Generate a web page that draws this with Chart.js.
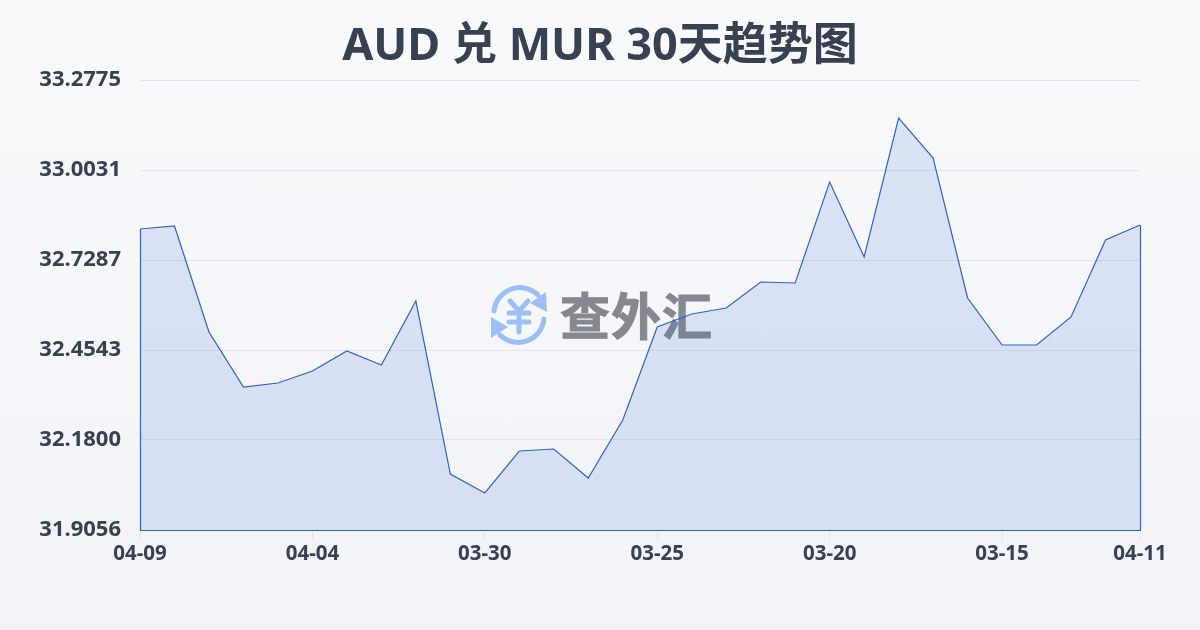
<!DOCTYPE html>
<html lang="zh"><head><meta charset="utf-8">
<script src="https://cdn.jsdelivr.net/npm/chart.js@4"></script>
<style>
html,body{margin:0;padding:0;width:1200px;height:630px;overflow:hidden}
body{background:linear-gradient(180deg,#f8fafc 0%,#f1f3f6 100%);position:relative}
#wm{position:absolute;left:488px;top:284px;width:230px;height:62px;display:flex;align-items:center}
#wm span{font:700 50px "Noto Sans CJK SC";color:#85898f;-webkit-text-stroke:1px #85898f;margin-left:10px;line-height:58px;letter-spacing:1px;position:relative;top:-2px}
canvas{position:absolute;left:0;top:0}
</style></head><body>
<div id="wm"><svg width="62" height="62" viewBox="0 0 62 62" fill="none" stroke="#9cbff5" stroke-width="5" stroke-linecap="round">
<path d="M6 27 A26 26 0 0 1 50 11"/><path d="M56 35 A26 26 0 0 1 12 51"/>
<path d="M58 8 L59 28 L42 19 Z" fill="#9cbff5" stroke="none"/><path d="M3 54 L3 33 L20 43 Z" fill="#9cbff5" stroke="none"/>
<path d="M22 17 L31 27 L40 17 M21 29 H41 M21 38 H41 M31 27 V48"/></svg><span>查外汇</span></div>
<canvas id="c" width="1200" height="630"></canvas>
<script>
const labels=["04-09","04-08","04-07","04-06","04-05","04-04","04-03","04-02","04-01","03-31","03-30","03-29","03-28","03-27","03-26","03-25","03-24","03-23","03-22","03-21","03-20","03-19","03-18","03-17","03-16","03-15","03-14","03-13","03-12","04-11"];
const rates=[32.8232,32.8324,32.5092,32.3415,32.3537,32.3903,32.4513,32.4086,32.6037,32.0763,32.0184,32.1464,32.1525,32.0641,32.2409,32.5245,32.5641,32.5824,32.6617,32.6586,32.9665,32.7379,33.1616,33.0397,32.6129,32.4696,32.4696,32.5550,32.7897,32.8354];
const yTicks=[31.9056,32.18,32.4543,32.7287,33.0031,33.2775];
const shownX=[0,5,10,15,20,25,29];
const titleText="AUD 兑 MUR 30天趋势图";
const lineColor="#2f62c8";
const titleFont='"Noto Sans","Noto Sans CJK SC"';
const tickFont='"Noto Sans","Noto Sans CJK SC"';
const outline={id:"outline",afterDatasetsDraw(ch){const a=ch.chartArea,c=ch.ctx;c.save();c.strokeStyle=lineColor;c.lineWidth=1.2;c.beginPath();
 const m=ch.getDatasetMeta(0).data;
 c.moveTo(a.left+.5,m[0].y);c.lineTo(a.left+.5,a.bottom+.5);c.lineTo(a.right+.5,a.bottom+.5);c.lineTo(a.right+.5,m[m.length-1].y);c.stroke();c.restore();}};
new Chart(document.getElementById("c"),{type:"line",plugins:[outline],
data:{labels,datasets:[{data:rates,borderColor:lineColor,borderWidth:1.2,pointRadius:0,tension:0,fill:"start",backgroundColor:"rgba(59,108,214,0.15)"}]},
options:{responsive:false,animation:false,devicePixelRatio:1,layout:{padding:0},
plugins:{legend:{display:false},tooltip:{enabled:false},
title:{display:true,text:titleText,color:"#374151",font:{family:titleFont,size:45,weight:"700",lineHeight:1},padding:{top:25,bottom:10}}},
scales:{
x:{type:"category",offset:false,afterFit(s){s.height=100},border:{display:false},
 grid:{drawOnChartArea:false,drawTicks:true,tickLength:10,color:"#e2e6ec",tickColor:c=>shownX.includes(c.index)?"#e2e6ec":"rgba(0,0,0,0)"},
 ticks:{autoSkip:false,maxRotation:0,padding:2,color:"#374151",font:{family:tickFont,size:20.5,weight:"700"},callback(v,i){return shownX.includes(i)?labels[i]:""}}},
y:{min:31.9056,max:33.2775,afterFit(s){s.width=140},afterBuildTicks(s){s.ticks=yTicks.map(value=>({value}))},border:{display:false},
 grid:{color:"#e2e6ec",drawTicks:false,lineWidth:1},
 ticks:{padding:19,color:"#374151",font:{family:tickFont,size:22,weight:"700"},callback:v=>Number(v).toFixed(4)}},
spacer:{position:"right",afterFit(s){s.width=60},border:{display:false},grid:{display:false},ticks:{display:false}}
}}});
</script></body></html>
